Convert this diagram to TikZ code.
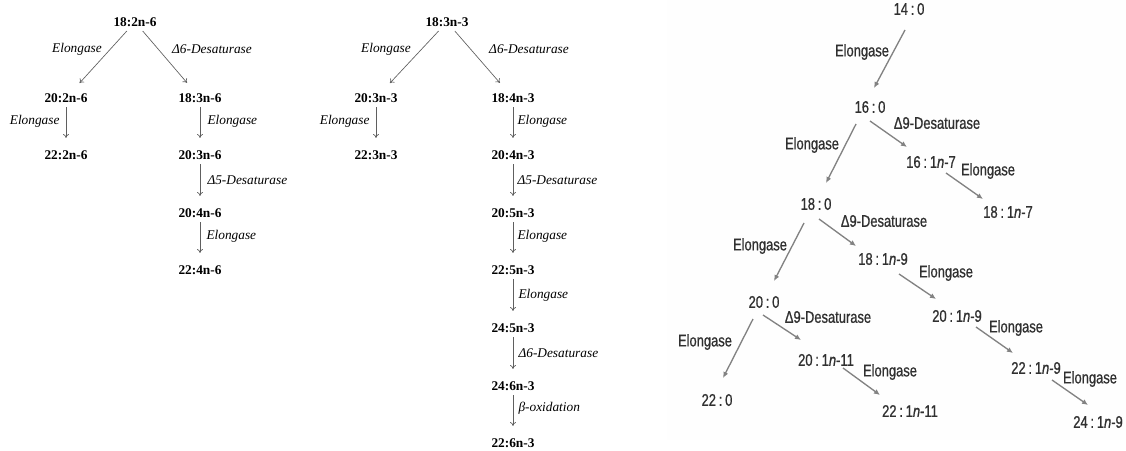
\documentclass[tikz,border=0pt]{standalone}
\usepackage{fontspec}
\setmainfont{Liberation Serif}
\newfontfamily\rsans[FakeStretch=0.77,FakeBold=0.8]{Liberation Sans}
\usetikzlibrary{arrows.meta}

\definecolor{rtext}{RGB}{48,48,48}
\definecolor{rline}{RGB}{130,130,130}
\definecolor{rpanel}{RGB}{254,254,254}
\definecolor{lline}{RGB}{95,95,95}

\tikzset{every picture/.style={line width=0.75pt}}
\tikzset{
  fa/.style={font=\fontsize{10}{12}\selectfont\bfseries, inner sep=3pt},
  en/.style={font=\fontsize{10}{12}\selectfont\itshape, inner sep=0.75pt},
  arr/.style={lline, line width=0.5pt, -{To[length=3pt,width=4.5pt]}, shorten >=6pt},
  rfa/.style={font=\rsans\fontsize{12.6}{14}\selectfont, text=rtext, inner sep=1.5pt},
  rarr/.style={rline, line width=1pt, -{Latex[length=4.5pt,width=4pt]}},
}

\begin{document}
\begin{tikzpicture}[x=0.75pt,y=0.75pt,yscale=-1,xscale=1]
	\useasboundingbox (0,0) rectangle (1126,450);
	
	%Shape: Rectangle [right panel]
	\fill [rpanel] (667,0) rectangle (1126,440);
	
	% n-6 family
	\node [fa] (l1) at (135,22) {18:2n-6};
	\node [fa] (l2) at (66,98) {20:2n-6};
	\node [fa] (l3) at (66,155) {22:2n-6};
	\node [fa] (l4) at (200,98) {18:3n-6};
	\node [fa] (l5) at (200,155) {20:3n-6};
	\node [fa] (l6) at (200,213) {20:4n-6};
	\node [fa] (l7) at (200,270) {22:4n-6};
	
	\draw [arr] (l1) -- (l2);
	\draw [arr] (l1) -- (l4);
	\draw [arr] (l2) -- (l3);
	\draw [arr] (l4) -- (l5);
	\draw [arr] (l5) -- (l6);
	\draw [arr] (l6) -- (l7);
	
	% Text Node
	\node [en] (le1) at (77,49) {Elongase};
	\node [en] (le2) at (212,49) {Δ6-Desaturase};
	\node [en, anchor=east] (le3) at (61,121) {Elongase};
	\node [en, anchor=west] (le4) at (206,121) {Elongase};
	\node [en, anchor=west] (le5) at (206,180) {Δ5-Desaturase};
	\node [en, anchor=west] (le6) at (205,236) {Elongase};
	
	% n-3 family
	\node [fa] (m1) at (447,22) {18:3n-3};
	\node [fa] (m2) at (376,98) {20:3n-3};
	\node [fa] (m3) at (376,155) {22:3n-3};
	\node [fa] (m4) at (513,98) {18:4n-3};
	\node [fa] (m5) at (513,155) {20:4n-3};
	\node [fa] (m6) at (513,213) {20:5n-3};
	\node [fa] (m7) at (513,270) {22:5n-3};
	\node [fa] (m8) at (513,328) {24:5n-3};
	\node [fa] (m9) at (513,386) {24:6n-3};
	\node [fa] (m10) at (513,443) {22:6n-3};
	
	\draw [arr] (m1) -- (m2);
	\draw [arr] (m1) -- (m4);
	\draw [arr] (m2) -- (m3);
	\draw [arr] (m4) -- (m5);
	\draw [arr] (m5) -- (m6);
	\draw [arr] (m6) -- (m7);
	\draw [arr] (m7) -- (m8);
	\draw [arr] (m8) -- (m9);
	\draw [arr] (m9) -- (m10);
	
	% Text Node
	\node [en] (me1) at (386,49) {Elongase};
	\node [en] (me2) at (529,49) {Δ6-Desaturase};
	\node [en, anchor=east] (me3) at (371,121) {Elongase};
	\node [en, anchor=west] (me4) at (516,121) {Elongase};
	\node [en, anchor=west] (me5) at (516,180) {Δ5-Desaturase};
	\node [en, anchor=west] (me6) at (516,236) {Elongase};
	\node [en, anchor=west] (me7) at (517,295) {Elongase};
	\node [en, anchor=west] (me8) at (517,353) {Δ6-Desaturase};
	\node [en, anchor=west] (me9) at (517,408) {β-oxidation};
	
	% n-7 / n-9 / n-11 family
	\node [rfa] (r1) at (909,9) {14\,:\,0};
	\node [rfa] (r2) at (870,107) {16\,:\,0};
	\node [rfa] (r3) at (931,162) {16\,:\,1\textit{n}-7};
	\node [rfa] (r4) at (1008,212) {18\,:\,1\textit{n}-7};
	\node [rfa] (r5) at (816,204) {18\,:\,0};
	\node [rfa] (r6) at (883,259) {18\,:\,1\textit{n}-9};
	\node [rfa] (r7) at (957,316) {20\,:\,1\textit{n}-9};
	\node [rfa] (r8) at (1036,368) {22\,:\,1\textit{n}-9};
	\node [rfa] (r9) at (1098,422) {24\,:\,1\textit{n}-9};
	\node [rfa] (r10) at (764,302) {20\,:\,0};
	\node [rfa] (r11) at (826,360) {20\,:\,1\textit{n}-11};
	\node [rfa] (r12) at (910,411) {22\,:\,1\textit{n}-11};
	\node [rfa] (r13) at (717,400) {22\,:\,0};
	
	\draw [rarr] ([shift={(-4,21)}]r1.center) -- ([shift={(4,-19)}]r2.center);
	\draw [rarr] ([shift={(-14,17)}]r2.center) -- ([shift={(10,-21)}]r5.center);
	\draw [rarr] ([shift={(-12,19)}]r5.center) -- ([shift={(10,-21)}]r10.center);
	\draw [rarr] ([shift={(-11,17)}]r10.center) -- ([shift={(6,-22)}]r13.center);
	\draw [rarr] ([shift={(0,14)}]r2.center) -- ([shift={(-24,-15)}]r3.center);
	\draw [rarr] ([shift={(15,11)}]r3.center) -- ([shift={(-25,-13)}]r4.center);
	\draw [rarr] ([shift={(3,15)}]r5.center) -- ([shift={(-27,-13)}]r6.center);
	\draw [rarr] ([shift={(16,15)}]r6.center) -- ([shift={(-21,-17)}]r7.center);
	\draw [rarr] ([shift={(19,11)}]r7.center) -- ([shift={(-23,-15)}]r8.center);
	\draw [rarr] ([shift={(16,12)}]r8.center) -- ([shift={(-10,-17)}]r9.center);
	\draw [rarr] ([shift={(-1,13)}]r10.center) -- ([shift={(-25,-20)}]r11.center);
	\draw [rarr] ([shift={(17,8)}]r11.center) -- ([shift={(-30,-16)}]r12.center);
	
	% Text Node
	\node [rfa] (re1) at (862,52) {Elongase};
	\node [rfa] (re2) at (937,123) {Δ9-Desaturase};
	\node [rfa] (re3) at (812,145) {Elongase};
	\node [rfa] (re4) at (988,171) {Elongase};
	\node [rfa] (re5) at (884,221) {Δ9-Desaturase};
	\node [rfa] (re6) at (760,246) {Elongase};
	\node [rfa] (re7) at (946,273) {Elongase};
	\node [rfa] (re8) at (828,317) {Δ9-Desaturase};
	\node [rfa] (re9) at (705,342) {Elongase};
	\node [rfa] (re10) at (1016,328) {Elongase};
	\node [rfa] (re11) at (890,372) {Elongase};
	\node [rfa] (re12) at (1090,379) {Elongase};
	
\end{tikzpicture}
\end{document}
